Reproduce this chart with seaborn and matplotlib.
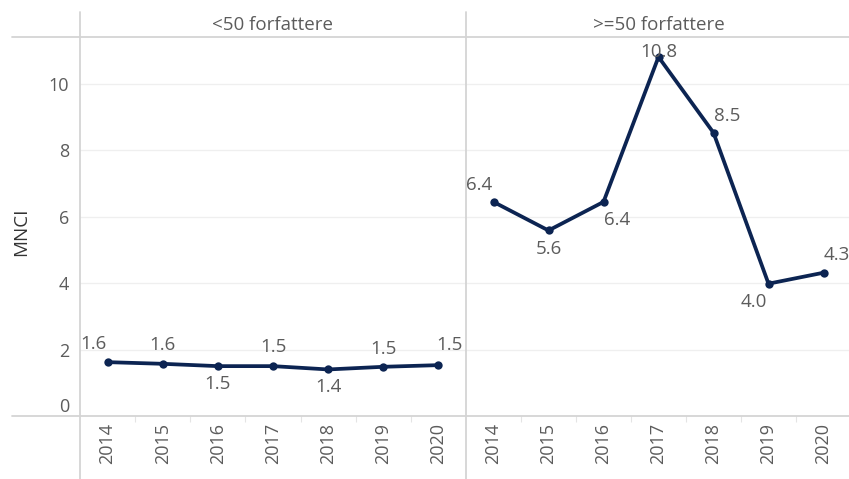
import matplotlib
matplotlib.use("Agg")
import matplotlib.pyplot as plt
from matplotlib.lines import Line2D
import seaborn as sns
import pandas as pd

years = [2014, 2015, 2016, 2017, 2018, 2019, 2020]
panels = ["<50 forfattere", ">=50 forfattere"]
mnci_small = [1.62, 1.57, 1.50, 1.50, 1.40, 1.48, 1.53]
mnci_large = [6.44, 5.58, 6.44, 10.80, 8.52, 3.98, 4.31]
y_ticks = [0, 2, 4, 6, 8, 10]
y_label = "MNCI"

# label placement offsets (pixels) -- styling only
offs_small = [(-14, 18), (0, 19), (0, -18), (0, 19), (0, -18), (0, 18), (11, 20)]
offs_large = [(-14, 17), (0, -19), (14, -18), (0, 5), (14, 17), (-15, -18), (13, 18)]

df = pd.DataFrame({
    "year": years * 2,
    "MNCI": mnci_small + mnci_large,
    "panel": [panels[0]] * len(years) + [panels[1]] * len(years),
})

sns.set_theme(style="white")
plt.rcParams["font.family"] = ["Open Sans", "DejaVu Sans"]

W, H = 849, 479
fig = plt.figure(figsize=(W / 100, H / 100), dpi=100)

line_col = "#0c2452"
txt_col = "#5c5c5c"
grid_col = "#efefef"
sep_col = "#d4d4d4"

x0, xm, x1 = 80, 466, 851
ytop, ybot = 37, 416

axes = []
for i, (pl, offs) in enumerate(zip(panels, [offs_small, offs_large])):
    l = x0 if i == 0 else xm
    r = xm if i == 0 else x1
    ax = fig.add_axes([l / W, (H - ybot) / H, (r - l) / W, (ybot - ytop) / H])
    sub = df[df["panel"] == pl]
    sns.lineplot(data=sub, x="year", y="MNCI", ax=ax, color=line_col,
                 linewidth=2.7, marker="o", markersize=6, markeredgewidth=0)
    ax.set_xlim(years[0] - 0.5, years[-1] + 0.5)
    ax.set_ylim(0, 11.4)
    ax.set_yticks(y_ticks)
    ax.set_xticks(years)
    ax.set_xticks([y + 0.5 for y in years[:-1]], minor=True)
    ax.set_xticklabels([str(y) for y in years], rotation=90)
    ax.tick_params(axis="x", which="major", length=0, pad=5, labelsize=13, labelcolor=txt_col)
    ax.tick_params(axis="x", which="minor", length=4, color="#e4e4e4", width=0.8, bottom=True)
    ax.tick_params(axis="y", length=0, pad=8, labelsize=13, labelcolor=txt_col)
    for yv in y_ticks[1:]:
        ax.axhline(yv, color=grid_col, lw=0.9, zorder=0)
    for s in ax.spines.values():
        s.set_visible(False)
    ax.set_xlabel("")
    if i == 0:
        ax.set_ylabel(y_label, fontsize=13.5, color="#333333")
        ax.yaxis.set_label_coords(-0.13, 0.4855)
        lbls = ax.get_yticklabels()
        lbls[0].set_va("bottom")
    else:
        ax.set_ylabel("")
        ax.set_yticklabels([])
    ax.text(0.5, 1.032, pl, transform=ax.transAxes, ha="center", va="center",
            fontsize=13.5, color=txt_col)
    vals = sub["MNCI"].tolist()
    for yr, v, (dx, dy) in zip(years, vals, offs):
        ax.annotate(f"{v:.1f}", (yr, v), xytext=(dx, dy), textcoords="offset pixels",
                    ha="center", va="center", fontsize=13.5, color=txt_col,
                    annotation_clip=False)
    axes.append(ax)

# Tableau-like separators
def hline(y, xa, xb):
    fig.add_artist(Line2D([xa / W, xb / W], [1 - y / H, 1 - y / H],
                          transform=fig.transFigure, color=sep_col, lw=1.3))

def vline(x, ya, yb):
    fig.add_artist(Line2D([x / W, x / W], [1 - ya / H, 1 - yb / H],
                          transform=fig.transFigure, color=sep_col, lw=1.3))

hline(ytop, 12, W)
hline(ybot, 12, W)
vline(x0, 12, H)
vline(xm, 12, H)

fig.savefig("out.png", dpi=100)
